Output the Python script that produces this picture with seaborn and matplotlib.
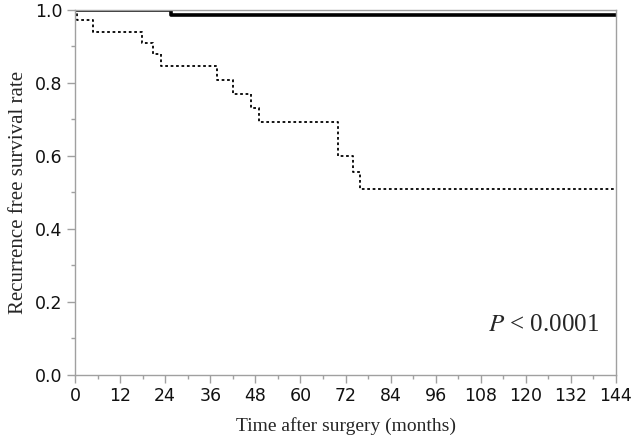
import matplotlib
matplotlib.use("Agg")
from matplotlib import pyplot as plt
from matplotlib.ticker import MultipleLocator
import seaborn as sns

# step curves (months, survival)
solid_time = [0, 25.6, 144]
solid_surv = [1.0, 0.986, 0.986]

dotted_time = [0, 0.45, 4.7, 17.9, 20.8, 22.9, 37.9, 42.0, 46.9, 49.0, 69.9, 73.9, 75.9, 144]
dotted_surv = [1.0, 0.973, 0.940, 0.910, 0.879, 0.847, 0.808, 0.770, 0.731, 0.694, 0.601, 0.555, 0.509, 0.509]

x_ticks = list(range(0, 145, 12))
y_ticks = [0.0, 0.2, 0.4, 0.6, 0.8, 1.0]

sns.set_style("ticks")
plt.rcParams['font.family'] = ['DejaVu Sans']

fig = plt.figure(figsize=(6.31, 4.42), dpi=100)
ax = fig.add_axes([0.1189, 0.1516, 0.8573, 0.8258])

sns.lineplot(x=dotted_time, y=dotted_surv, ax=ax, estimator=None, drawstyle='steps-post',
             color='black', linewidth=1.3, linestyle=(0, (1.5, 1.5)))
sns.lineplot(x=solid_time, y=solid_surv, ax=ax, estimator=None, drawstyle='steps-post',
             color='black', linewidth=2.6)

ax.set_xlim(0, 144)
ax.set_ylim(0, 1.0)
ax.set_xticks(x_ticks)
ax.set_yticks(y_ticks)
ax.set_yticklabels([f"{v:.1f}" for v in y_ticks])
ax.xaxis.set_minor_locator(MultipleLocator(6))
ax.yaxis.set_minor_locator(MultipleLocator(0.1))

for s in ax.spines.values():
    s.set_color('#a0a0a0')
    s.set_linewidth(1.0)
ax.tick_params(which='major', length=6, width=1.0, color='#a0a0a0', labelsize=12.5, pad=3,
               labelcolor='#111111')
ax.tick_params(which='minor', length=3, width=1.0, color='#a0a0a0')

serif = ['Liberation Serif', 'DejaVu Serif']
ax.set_xlabel("Time after surgery (months)", family=serif, fontsize=14, labelpad=8)
ax.set_ylabel("Recurrence free survival rate", family=serif, fontsize=15, labelpad=5)

ax.text(110, 0.137, r"$\mathit{P}$ < 0.0001", family=serif, fontsize=18, ha='left', va='center',
        math_fontfamily='stix')

fig.savefig("out.png", dpi=100)
